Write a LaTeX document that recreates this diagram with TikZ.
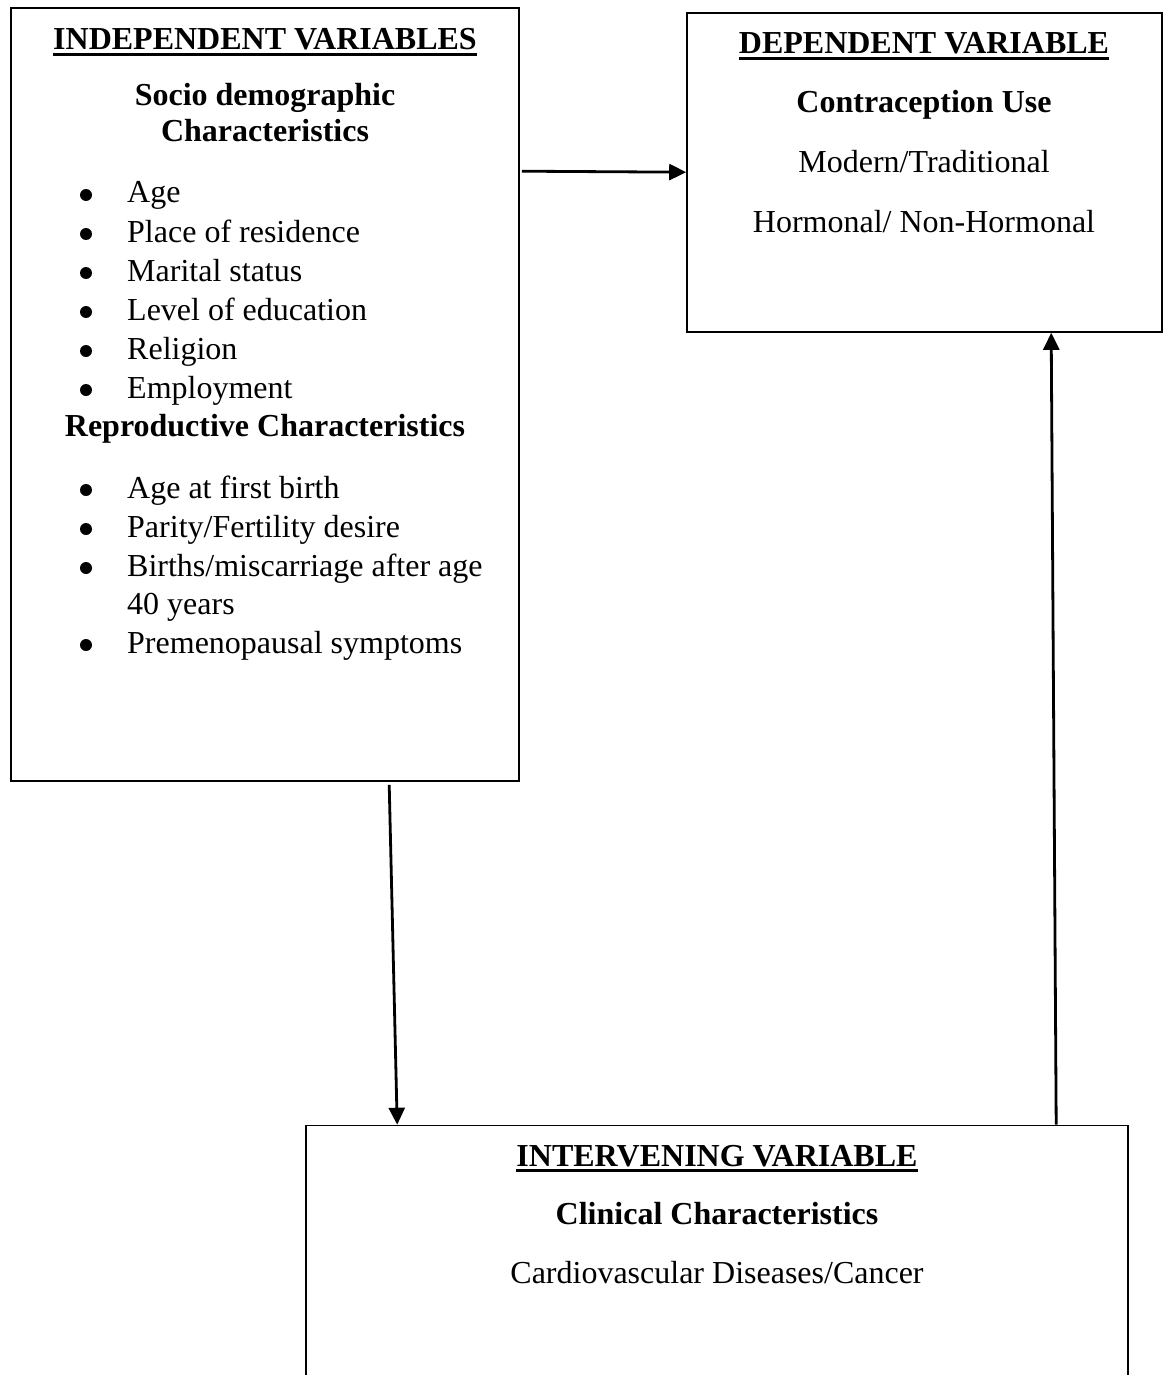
\documentclass[tikz,border=0pt]{standalone}
\usepackage{fontspec}
\setmainfont{Liberation Serif}
\usetikzlibrary{arrows.meta}
\newcommand\ulx[1]{\setbox0=\hbox{#1}\rlap{\rule[-6pt]{\wd0}{3pt}}\box0}
\tikzset{
  boxnode/.style={draw, line width=1.6pt, rectangle, inner sep=0pt},
  arr/.style={line width=2.8pt, -{Triangle[length=17pt,width=16pt]}},
  txt/.style={inner sep=0pt, anchor=base, font=\fontsize{32}{39}\selectfont},
  btxt/.style={txt, font=\fontsize{32}{39}\selectfont\bfseries},
  itm/.style={inner sep=0pt, anchor=base west, font=\fontsize{32}{39}\selectfont},
  bul/.style={circle, fill=black, inner sep=0pt, minimum size=12pt}
}
\begin{document}
\begin{tikzpicture}[x=1pt,y=-1pt]
\useasboundingbox (0,0) rectangle (1163,1375);
\clip (0,0) rectangle (1163,1375);
\fill[white] (0,0) rectangle (1163,1375);
% boxes
\node[boxnode, minimum width=508pt, minimum height=773pt] (indep) at (265,394.5) {};
\node[boxnode, minimum width=475pt, minimum height=319pt] (dep) at (924.5,172.5) {};
\node[boxnode, minimum width=822pt, minimum height=324.5pt] (interv) at (717,1287.75) {};
% independent box texts
\node[btxt] (t1) at (265,50) {\ulx{INDEPENDENT VARIABLES}};
\node[btxt] (t2) at (265,106) {Socio demographic};
\node[btxt] (t3) at (265,142) {Characteristics};
\foreach \y/\s [count=\i] in {203/{Age},242/{Place of residence},281/{Marital status},320/{Level of education},359/{Religion},398/{Employment}}{
  \node[bul] (ba\i) at (86,\y-8) {};
  \node[itm] (ia\i) at (127,\y) {\s};
}
\node[btxt] (t4) at (265,436) {Reproductive Characteristics};
\foreach \y/\s [count=\i] in {498/{Age at first birth},537/{Parity/Fertility desire},576/{Births/miscarriage after age},653/{Premenopausal symptoms}}{
  \node[bul] (bb\i) at (86,\y-8) {};
  \node[itm] (ib\i) at (127,\y) {\s};
}
\node[itm] (ib5) at (127,614) {40 years};
% dependent box texts
\node[btxt] (d1) at (924,54) {\ulx{DEPENDENT VARIABLE}};
\node[btxt] (d2) at (924,113) {Contraception Use};
\node[txt] (d3) at (924,173) {Modern/Traditional};
\node[txt] (d4) at (924,233) {Hormonal/ Non-Hormonal};
% intervening box texts
\node[btxt] (v1) at (717,1166) {\ulx{INTERVENING VARIABLE}};
\node[btxt] (v2) at (717,1224) {Clinical Characteristics};
\node[txt] (v3) at (717,1283) {Cardiovascular Diseases/Cancer};
% connectors
\draw[arr] ([xshift=2pt,yshift=-164pt]indep.north east) -- ([yshift=-160pt]dep.north west);
\draw[arr] ([xshift=379pt,yshift=-3pt]indep.south west) -- ([xshift=92pt]interv.north west);
\draw[arr] ([xshift=751pt]interv.north west) -- ([xshift=365pt]dep.south west);
\end{tikzpicture}
\end{document}
